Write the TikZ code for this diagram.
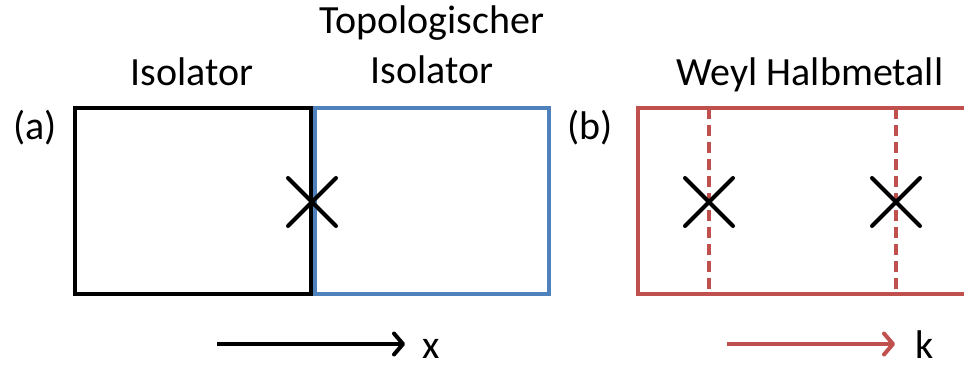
\documentclass[tikz,border=0pt]{standalone}
\usepackage{fontspec}
\setmainfont{Carlito}
\usetikzlibrary{arrows.meta}
\definecolor{boxblue}{HTML}{4F81BD}
\definecolor{boxred}{HTML}{C0504D}
\begin{document}
\begin{tikzpicture}[x=1pt,y=-1pt,
  lbl/.style={font=\fontsize{40}{48}\selectfont, inner sep=0pt},
  region/.style={draw, line width=4pt, minimum width=#1, minimum height=186pt, inner sep=0pt, outer sep=0pt},
  weylpt/.style={line width=4pt, line cap=round},
  cutline/.style={boxred, line width=3.5pt, dash pattern=on 11pt off 6pt},
  axis/.style={line width=4pt, -{Straight Barb[length=9pt,width=21pt,round]}}]
\useasboundingbox (0,0) rectangle (964,370);

% (a) interface between a trivial and a topological insulator
\node[region=236pt] (ins) at (193,201) {};
\node[region=234pt, draw=boxblue] (tis) at (432,201) {};
\node[lbl] (la) at (35,128) {(a)};
\node[lbl, anchor=base] (tins) at (192,85) {Isolator};
\node[lbl, anchor=base] (ttop1) at (432,33) {Topologischer};
\node[lbl, anchor=base] (ttop2) at (432,83) {Isolator};
\coordinate (c0) at (312,202);
\draw[weylpt] ([shift={(-24,-24)}]c0) -- ([shift={(24,24)}]c0)
              ([shift={(-24,24)}]c0) -- ([shift={(24,-24)}]c0);
\coordinate (xa) at (217,344);
\coordinate (xb) at (405,344);
\draw[axis] (xa) -- (xb);
\node[lbl, anchor=base] (xl) at (431,358) {x};

% (b) Weyl semimetal in momentum space
\coordinate (wtr) at (968,108);
\coordinate (wtl) at (638,108);
\coordinate (wbl) at (638,294);
\coordinate (wbr) at (968,294);
\draw[boxred, line width=4pt] (wtr) -- (wtl) -- (wbl) -- (wbr);
\node[lbl] (lb) at (590,128) {(b)};
\node[lbl, anchor=base] (tweyl) at (810,85) {Weyl Halbmetall};
\coordinate (k1t) at (709,108);
\coordinate (k1b) at (709,294);
\coordinate (k2t) at (896,108);
\coordinate (k2b) at (896,294);
\draw[cutline] (k1t) -- (k1b);
\draw[cutline] (k2t) -- (k2b);
\coordinate (w1) at (709,202);
\coordinate (w2) at (896,202);
\foreach \w in {w1,w2}
  \draw[weylpt] ([shift={(-24,-24)}]\w) -- ([shift={(24,24)}]\w)
                ([shift={(-24,24)}]\w) -- ([shift={(24,-24)}]\w);
\coordinate (ka) at (727,344);
\coordinate (kb) at (895,344);
\draw[axis, boxred] (ka) -- (kb);
\node[lbl, anchor=base] (kl) at (925,358) {k};
\end{tikzpicture}
\end{document}
